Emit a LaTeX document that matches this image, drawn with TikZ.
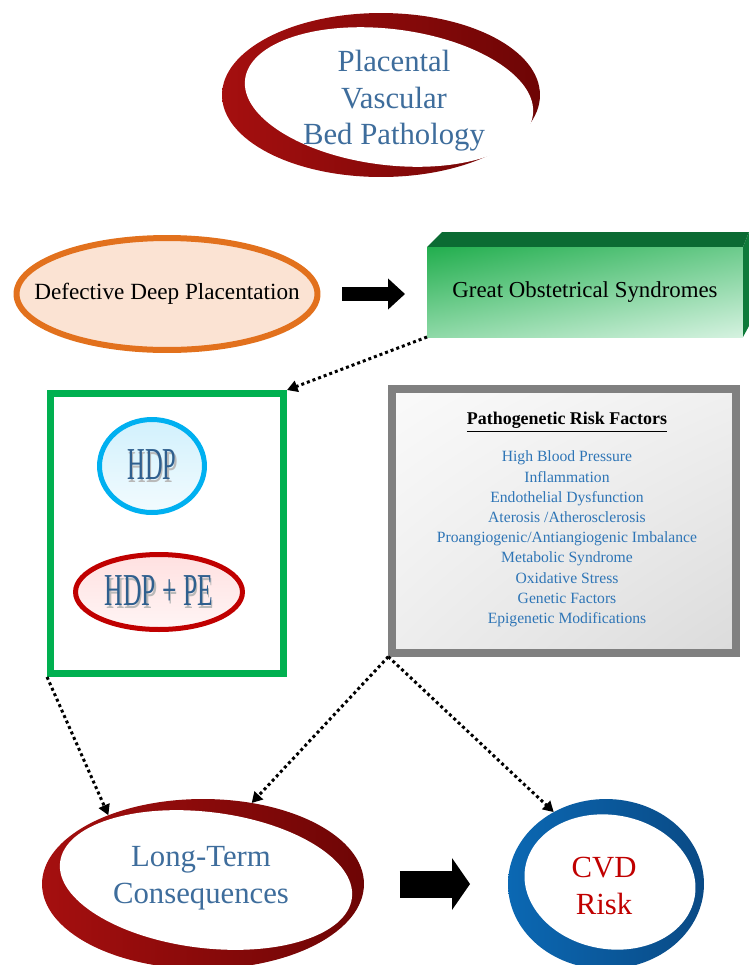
\documentclass[tikz,border=0pt]{standalone}
\usepackage{fontspec}
\setmainfont{Liberation Serif}
\usepackage{tikz}
\usetikzlibrary{arrows.meta}
\usetikzlibrary{shapes.geometric}
\usetikzlibrary{shadings}

\definecolor{ringhi}{HTML}{A50F0F}
\definecolor{ringlo}{HTML}{6E0505}
\definecolor{bluehi}{HTML}{0B68B3}
\definecolor{bluelo}{HTML}{0A4A85}
\definecolor{steel}{HTML}{3E6D9C}
\definecolor{cvdred}{HTML}{C00000}
\definecolor{ddporange}{HTML}{E2711D}
\definecolor{ddpfill}{HTML}{FBE3D3}
\definecolor{gostop}{HTML}{0B6B33}
\definecolor{gosside}{HTML}{0E7A3A}
\definecolor{framegreen}{HTML}{00B050}
\definecolor{hdpcyan}{HTML}{00B0F0}
\definecolor{hdptext}{HTML}{2F5F8E}
\definecolor{boxgray}{HTML}{808080}
\definecolor{itemblue}{HTML}{2E75B6}

\newcommand{\shadowtxt}[1]{\makebox[0pt][l]{\hspace{1.5pt}\raisebox{-1.5pt}{\color{gray!55}#1}}#1}

\begin{document}
\begin{tikzpicture}[x=0.02cm, y=-0.02cm,
  ring/.style={ellipse, inner sep=0, outer sep=0},
  ringtxt/.style={align=center, inner sep=0, font=\fontsize{17.5}{20.8}\selectfont},
  hdpfont/.style={font=\fontsize{26}{28}\selectfont, text=hdptext},
  dotarrow/.style={line width=1.7pt, dash pattern=on 1.7pt off 1.7pt, -{Triangle[length=6pt,width=6.5pt]}}]
\useasboundingbox (0,0) rectangle (749,965);

\node[ring, minimum width=6.36cm, minimum height=3.28cm, left color=ringhi, right color=ringlo] (pvb) at (381,95) {};
\fill[white, rotate around={-7:(389,97)}] (389,97) ellipse [x radius=145, y radius=68];
\node[ringtxt, text=steel] (pvbtxt) at (394,101) {Placental\\Vascular\\Bed Pathology};

\node[ellipse, draw=ddporange, line width=0.12cm, fill=ddpfill, minimum width=6.02cm, minimum height=2.24cm, inner sep=0, font=\fontsize{13.2}{15}\selectfont] (ddp) at (167,294) {\makebox[0pt]{Defective Deep Placentation}};

\fill[gostop] (427,247) -- (442,232) -- (749,232) -- (743,247) -- cycle;
\fill[gosside] (743,247) -- (749,232) -- (749,326) -- (743,337) -- cycle;
\node[minimum width=6.32cm, minimum height=1.8cm, inner sep=0, outer sep=0, upper left={rgb,255:red,34;green,174;blue,78}, upper right={rgb,255:red,108;green,203;blue,140}, lower left={rgb,255:red,142;green,217;blue,167}, lower right={rgb,255:red,213;green,242;blue,224}, font=\fontsize{13}{15}\selectfont] (gos) at (585,292) {Great Obstetrical Syndromes};

\draw[line width=0.28cm, -{Triangle[length=0.34cm,width=0.6cm]}, shorten <=0.44cm, shorten >=0.44cm] (ddp.east) -- (ddp.east -| gos.west);

\node[draw=framegreen, line width=0.14cm, minimum width=4.66cm, minimum height=5.6cm, inner sep=0] (hdpbox) at (167,533.5) {};
\node[ellipse, draw=hdpcyan, line width=0.1cm, top color=hdpcyan!18, bottom color=hdpcyan!5, minimum width=2.1cm, minimum height=1.86cm, inner sep=0, hdpfont] (hdp) at (152,466) {\scalebox{0.535}[1]{\shadowtxt{HDP}}};
\node[ellipse, draw=cvdred, line width=0.1cm, top color=red!12, bottom color=red!4, minimum width=3.34cm, minimum height=1.5cm, inner sep=0, hdpfont] (pe) at (159,592) {\makebox[0pt]{\scalebox{0.56}[1]{\shadowtxt{HDP + PE}}}};

\node[draw=boxgray, line width=0.15cm, minimum width=6.88cm, minimum height=5.28cm, inner sep=0, upper left=gray!4, upper right=gray!12, lower left=gray!14, lower right=gray!28] (risk) at (564,521) {};
\node[font=\fontsize{10.2}{12}\selectfont\bfseries, inner sep=0] (risktitle) at (567,422) {\underline{Pathogenetic Risk Factors}};
\node[align=center, text=itemblue, font=\fontsize{8.9}{11.5}\selectfont, inner sep=0] (riskitems) at (567,539) {High Blood Pressure\\Inflammation\\Endothelial Dysfunction\\Aterosis /Atherosclerosis\\Proangiogenic/Antiangiogenic Imbalance\\Metabolic Syndrome\\Oxidative Stress\\Genetic Factors\\Epigenetic Modifications};

\node[ring, minimum width=6.44cm, minimum height=3.4cm, left color=ringhi, right color=ringlo] (ltc) at (203,884) {};
\fill[white, rotate around={-7:(206,880)}] (206,880) ellipse [x radius=147, y radius=68];
\node[ringtxt, text=steel] (ltctxt) at (201,878) {Long-Term\\Consequences};

\node[ring, minimum width=3.92cm, minimum height=3.4cm, left color=bluehi, right color=bluelo] (cvd) at (606,884) {};
\fill[white, rotate around={-10:(610,882)}] (610,882) ellipse [x radius=86, y radius=67];
\node[ringtxt, text=cvdred] (cvdtxt) at (604,886) {CVD\\Risk};

\draw[line width=0.54cm, -{Triangle[length=0.36cm,width=1.02cm]}, shorten <=0.72cm, shorten >=0.76cm] (ltc.east) -- (ltc.east -| cvd.west);

\draw[dotarrow] (gos.south west) -- (hdpbox.north east);
\draw[dotarrow] (hdpbox.south west) -- (ltc.144);
\draw[dotarrow] (risk.south west) -- (ltc.59);
\draw[dotarrow] (risk.south west) -- (cvd.126);
\end{tikzpicture}
\end{document}
